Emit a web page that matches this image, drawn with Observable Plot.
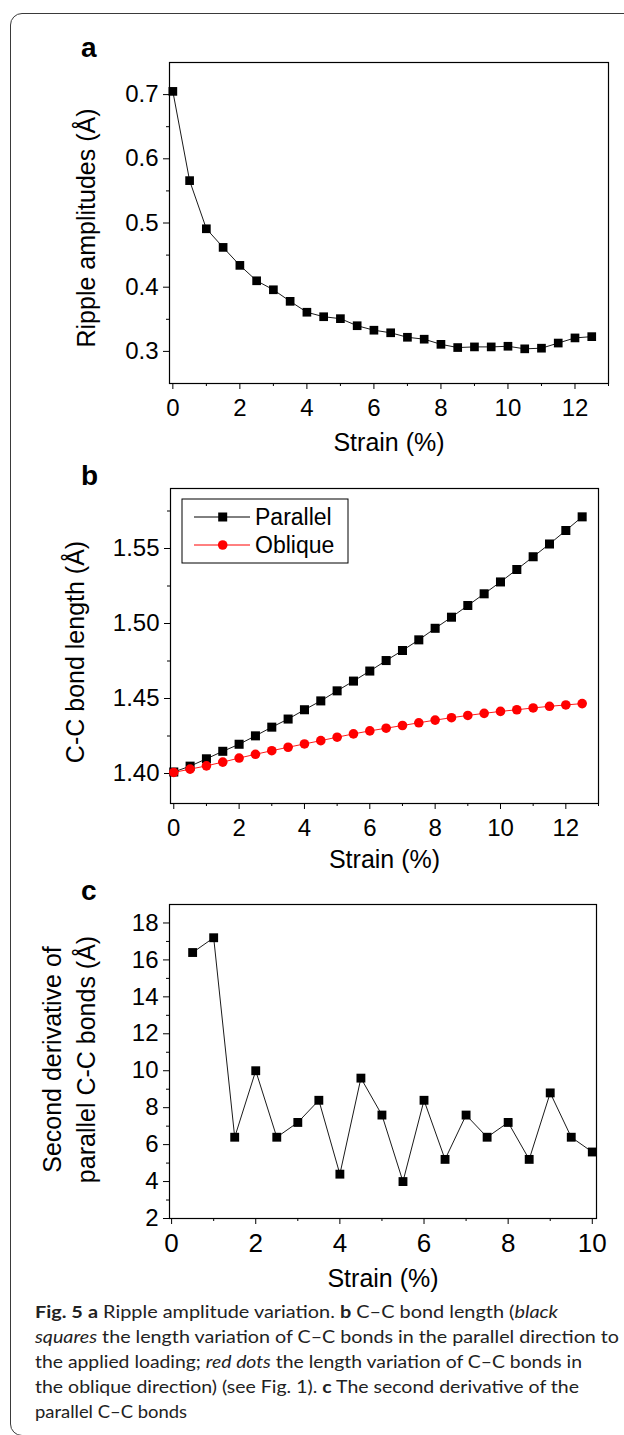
<!DOCTYPE html>
<html><head><meta charset="utf-8">
<script src="https://cdn.jsdelivr.net/npm/d3@7"></script>
<script src="https://cdn.jsdelivr.net/npm/@observablehq/plot@0.6"></script>
<style>
html,body{margin:0;padding:0;background:#fff;width:624px;height:1435px;overflow:hidden;}
#page{position:relative;width:624px;height:1435px;overflow:hidden;}
.panel{position:absolute;left:0;}
#border{position:absolute;left:10px;top:13px;width:660px;height:1423px;border:1.5px solid #3a3a3a;border-radius:12px;box-sizing:border-box;}
#overlay{position:absolute;left:0;top:0;}
</style></head>
<body><div id="page"><div id="border"></div></div>
<script>
// ---------- data ----------
const strainAB = [0,0.5,1,1.5,2,2.5,3,3.5,4,4.5,5,5.5,6,6.5,7,7.5,8,8.5,9,9.5,10,10.5,11,11.5,12,12.5];
const ripple = [0.705,0.566,0.491,0.462,0.434,0.410,0.396,0.378,0.361,0.354,0.351,0.340,0.333,0.329,0.322,0.319,0.311,0.306,0.307,0.307,0.308,0.304,0.305,0.313,0.321,0.323];
const parallel = [1.4010,1.4049,1.4098,1.4148,1.4195,1.4251,1.4309,1.4363,1.4425,1.4484,1.4551,1.4616,1.4683,1.4753,1.4820,1.4891,1.4968,1.5042,1.5120,1.5198,1.5277,1.5360,1.5445,1.5530,1.5620,1.5711];
const oblique = [1.4007,1.4029,1.4051,1.4076,1.4103,1.4128,1.4152,1.4175,1.4197,1.4219,1.4242,1.4264,1.4284,1.4302,1.4320,1.4338,1.4356,1.4372,1.4387,1.4401,1.4414,1.4425,1.4437,1.4448,1.4457,1.4466];
const strainC = [0.5,1,1.5,2,2.5,3,3.5,4,4.5,5,5.5,6,6.5,7,7.5,8,8.5,9,9.5,10];
const secondDeriv = [16.4,17.2,6.4,10.0,6.4,7.2,8.4,4.4,9.6,7.6,4.0,8.4,5.2,7.6,6.4,7.2,5.2,8.8,6.4,5.6];

const abXTicks = [0,2,4,6,8,10,12];
const abXMinor = [1,3,5,7,9,11,13];
const aYTicks = [0.3,0.4,0.5,0.6,0.7];
const aYMinor = [0.35,0.45,0.55,0.65];
const bYTicks = [1.40,1.45,1.50,1.55];
const bYMinor = [1.425,1.475,1.525,1.575];
const cXTicks = [0,2,4,6,8,10];
const cXMinor = [1,3,5,7,9];
const cYTicks = [2,4,6,8,10,12,14,16,18];
const cYMinor = [3,5,7,9,11,13,15,17];

const xTitle = "Strain (%)";
const aYTitle = "Ripple amplitudes (Å)";
const bYTitle = "C-C bond length (Å)";
const cYTitle1 = "Second derivative of";
const cYTitle2 = "parallel C-C bonds (Å)";
const legendLabels = ["Parallel", "Oblique"];
const panelLetters = ["a", "b", "c"];

// ---------- helpers ----------
const FONT = "'Liberation Sans', Arial, Helvetica, sans-serif";
const page = document.getElementById("page");
function place(svg, top) {
  svg.classList.add("panel");
  svg.style.top = top + "px";
  page.appendChild(svg);
}
const blank = () => "";
function axes({xt, xm, yt, ym, yfmt, xfs = 24, yfs = 24}) {
  return [
    Plot.axisX({ticks: xm, tickSize: 3, anchor: "bottom", tickFormat: blank, label: null}),
    Plot.axisX({ticks: xt, tickSize: 6, tickPadding: 9, anchor: "bottom", fontSize: xfs, tickFormat: d => String(d), label: null}),
    Plot.axisY({ticks: ym, tickSize: 3, anchor: "left", tickFormat: blank, label: null}),
    Plot.axisY({ticks: yt, tickSize: 6, tickPadding: 5, anchor: "left", fontSize: yfs, tickFormat: yfmt, label: null}),
    Plot.frame({stroke: "#000", strokeWidth: 1.2})
  ];
}
function yTitle(text, dx, dy) {
  return Plot.text([text], {frameAnchor: "left", textAnchor: "middle", lineAnchor: "middle", dx, dy, rotate: -90, fontSize: 25});
}
const style = {fontFamily: FONT, fontSize: "24px", color: "#000", background: "transparent", overflow: "visible"};

// ---------- panel a ----------
const dataA = strainAB.map((s, i) => ({x: s, y: ripple[i]}));
place(Plot.plot({
  width: 624, height: 450,
  marginLeft: 169, marginRight: 16, marginTop: 42, marginBottom: 87,
  style,
  x: {domain: [-0.1, 13], axis: null},
  y: {domain: [0.25, 0.75], axis: null},
  marks: [
    ...axes({xt: abXTicks, xm: abXMinor, yt: aYTicks, ym: aYMinor, yfmt: d3.format(".1f")}),
    Plot.line(dataA, {x: "x", y: "y", stroke: "#000", strokeWidth: 0.9}),
    Plot.dot(dataA, {x: "x", y: "y", symbol: "square", r: 4.9, fill: "#000"}),
    Plot.text([xTitle], {frameAnchor: "bottom", dy: 67, lineAnchor: "bottom", fontSize: 25}),
    yTitle(aYTitle, -83, 5)
  ]
}), 20);

// ---------- panel b ----------
const dataPar = strainAB.map((s, i) => ({x: s, y: parallel[i]}));
const dataObl = strainAB.map((s, i) => ({x: s, y: oblique[i]}));
place(Plot.plot({
  width: 624, height: 420,
  marginLeft: 170, marginRight: 26, marginTop: 18, marginBottom: 87,
  style,
  x: {domain: [-0.1, 13], axis: null},
  y: {domain: [1.38, 1.59], axis: null},
  marks: [
    ...axes({xt: abXTicks, xm: abXMinor, yt: bYTicks, ym: bYMinor, yfmt: d3.format(".2f")}),
    Plot.line(dataPar, {x: "x", y: "y", stroke: "#000", strokeWidth: 0.9}),
    Plot.dot(dataPar, {x: "x", y: "y", symbol: "square", r: 5.1, fill: "#000"}),
    Plot.line(dataObl, {x: "x", y: "y", stroke: "#ff0000", strokeWidth: 0.9}),
    Plot.dot(dataObl, {x: "x", y: "y", r: 4.8, fill: "#ff0000"}),
    Plot.text([xTitle], {frameAnchor: "bottom", dy: 64, lineAnchor: "bottom", fontSize: 25}),
    yTitle(bYTitle, -95, 6)
  ]
}), 470);

// ---------- panel c ----------
const dataC = strainC.map((s, i) => ({x: s, y: secondDeriv[i]}));
place(Plot.plot({
  width: 624, height: 410,
  marginLeft: 169, marginRight: 28, marginTop: 14, marginBottom: 82,
  style,
  x: {domain: [-0.05, 10.1], axis: null},
  y: {domain: [2, 19], axis: null},
  marks: [
    ...axes({xt: cXTicks, xm: cXMinor, yt: cYTicks, ym: cYMinor, yfmt: d => String(d), xfs: 26}),
    Plot.line(dataC, {x: "x", y: "y", stroke: "#000", strokeWidth: 0.9}),
    Plot.dot(dataC, {x: "x", y: "y", symbol: "square", r: 5, fill: "#000"}),
    Plot.text([xTitle], {frameAnchor: "bottom", dy: 68, lineAnchor: "bottom", fontSize: 25}),
    yTitle(cYTitle1, -117, -2),
    yTitle(cYTitle2, -83, -2)
  ]
}), 890);

// ---------- overlay: panel letters, legend, caption ----------
const ov = d3.select(page).append("svg").attr("id", "overlay")
  .attr("width", 624).attr("height", 1435)
  .style("font-family", FONT);

const letterY = [57, 485, 900];
panelLetters.forEach((l, i) => {
  ov.append("text").attr("x", 81).attr("y", letterY[i])
    .attr("font-size", 28).attr("font-weight", "bold").text(l);
});

// legend (panel b)
const lg = ov.append("g");
lg.append("rect").attr("x", 182).attr("y", 499).attr("width", 166).attr("height", 64)
  .attr("fill", "#fff").attr("stroke", "#000").attr("stroke-width", 1);
const rows = [{y: 517, color: "#000", sym: "square"}, {y: 545, color: "#ff0000", sym: "circle"}];
rows.forEach((r, i) => {
  lg.append("line").attr("x1", 194).attr("x2", 250).attr("y1", r.y).attr("y2", r.y)
    .attr("stroke", r.color).attr("stroke-width", 1);
  if (r.sym === "square") {
    lg.append("rect").attr("x", 222.7 - 4.5).attr("y", r.y - 4.5).attr("width", 9).attr("height", 9).attr("fill", r.color);
  } else {
    lg.append("circle").attr("cx", 222.7).attr("cy", r.y).attr("r", 4.8).attr("fill", r.color);
  }
  lg.append("text").attr("x", 255).attr("y", r.y).attr("dy", "0.35em")
    .attr("font-size", 23).text(legendLabels[i]);
});

// caption
const captionLines = [
  [["b", "Fig. 5"], ["n", " "], ["b", "a"], ["n", " Ripple amplitude variation. "], ["b", "b"], ["n", " C–C bond length ("], ["i", "black"]],
  [["i", "squares"], ["n", " the length variation of C–C bonds in the parallel direction to"]],
  [["n", "the applied loading; "], ["i", "red dots"], ["n", " the length variation of C–C bonds in"]],
  [["n", "the oblique direction) (see Fig. 1). "], ["b", "c"], ["n", " The second derivative of the"]],
  [["n", "parallel C–C bonds"]]
];
const capBase = [1318, 1343, 1368, 1393, 1418];
const capLen = [523, 584, 547, 544, 152];
captionLines.forEach((parts, i) => {
  const t = ov.append("text").attr("x", 35).attr("y", capBase[i])
    .attr("font-family", "Lato, 'Noto Sans', sans-serif").attr("font-size", 17.5)
    .attr("fill", "#222").style("white-space", "pre")
    .attr("textLength", capLen[i]).attr("lengthAdjust", "spacingAndGlyphs");
  parts.forEach(([k, s]) => {
    const ts = t.append("tspan").text(s);
    if (k === "b") ts.attr("font-weight", "bold");
    if (k === "i") ts.attr("font-style", "italic");
  });
});
</script>
</body></html>
